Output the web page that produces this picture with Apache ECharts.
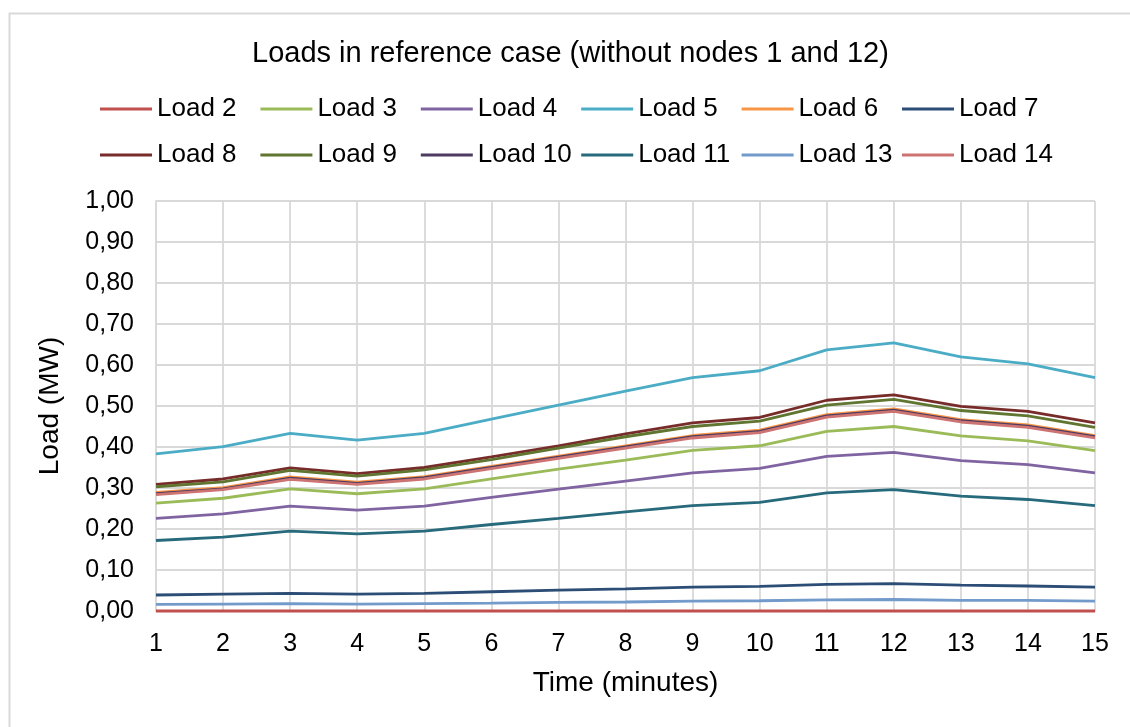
<!DOCTYPE html>
<html>
<head>
<meta charset="utf-8">
<script src="https://cdn.jsdelivr.net/npm/echarts@6/dist/echarts.min.js"></script>
<style>html,body{margin:0;padding:0;background:#fff}#c{width:1130px;height:727px}</style>
</head>
<body>
<div id="c"></div>
<script>
var times = ['1','2','3','4','5','6','7','8','9','10','11','12','13','14','15'];
var yTicks = [0, 0.1, 0.2, 0.3, 0.4, 0.5, 0.6, 0.7, 0.8, 0.9, 1.0];
var seriesNames = ['Load 2','Load 3','Load 4','Load 5','Load 6','Load 7','Load 8','Load 9','Load 10','Load 11','Load 13','Load 14'];
var seriesColors = ['#C0504D','#9BBB59','#8064A2','#4BACC6','#F79646','#2C4D75','#772C2A','#5F7530','#4D3B62','#276A7C','#729ACA','#CD7371'];

var load2  = [0,0,0,0,0,0,0,0,0,0,0,0,0,0,0];
var load3  = [0.263,0.275,0.298,0.286,0.298,0.322,0.346,0.368,0.392,0.403,0.438,0.450,0.427,0.415,0.391];
var load4  = [0.226,0.237,0.256,0.246,0.256,0.277,0.297,0.317,0.337,0.348,0.377,0.387,0.367,0.357,0.337];
var load5  = [0.383,0.401,0.433,0.417,0.433,0.468,0.502,0.536,0.569,0.586,0.637,0.654,0.620,0.603,0.569];
var load6  = [0.289,0.301,0.327,0.314,0.328,0.353,0.378,0.403,0.428,0.441,0.479,0.493,0.467,0.454,0.428];
var load7  = [0.039,0.041,0.043,0.041,0.043,0.047,0.051,0.054,0.058,0.060,0.065,0.067,0.063,0.061,0.058];
var load8  = [0.309,0.322,0.349,0.335,0.350,0.376,0.403,0.432,0.459,0.472,0.514,0.527,0.499,0.487,0.459];
var load9  = [0.303,0.315,0.343,0.329,0.344,0.369,0.397,0.425,0.450,0.463,0.502,0.516,0.489,0.476,0.448];
var load10 = [0.286,0.298,0.324,0.311,0.325,0.350,0.375,0.400,0.425,0.438,0.476,0.490,0.464,0.451,0.425];
var load11 = [0.172,0.180,0.195,0.188,0.195,0.211,0.226,0.242,0.257,0.265,0.288,0.296,0.280,0.272,0.257];
var load13 = [0.016,0.017,0.018,0.017,0.018,0.019,0.021,0.022,0.024,0.025,0.027,0.028,0.026,0.026,0.024];
var load14 = [0.284,0.296,0.321,0.309,0.322,0.347,0.372,0.397,0.422,0.435,0.473,0.487,0.461,0.448,0.422];

var seriesData = [load2,load3,load4,load5,load6,load7,load8,load9,load10,load11,load13,load14];

var FONT = "'Liberation Sans', Arial, sans-serif";

var legends = seriesNames.map(function (name, i) {
  var row = Math.floor(i / 6), col = i % 6;
  return {
    data: [name],
    left: 100 + col * 160.4,
    top: row === 0 ? 94 : 140,
    padding: 0,
    icon: 'rect',
    itemWidth: 52,
    itemHeight: 3,
    selectedMode: false,
    textStyle: { fontFamily: FONT, fontSize: 26, color: '#000', lineHeight: 30, padding: [0,0,0,0] }
  };
});

var series = seriesNames.map(function (name, i) {
  return {
    name: name,
    type: 'line',
    data: seriesData[i],
    color: seriesColors[i],
    showSymbol: false,
    symbol: 'none',
    clip: false,
    lineStyle: { width: 2.8, color: seriesColors[i] },
    emphasis: { disabled: true },
    animation: false
  };
});

var chart = echarts.init(document.getElementById('c'), null, { renderer: 'canvas' });
chart.setOption({
  backgroundColor: '#fff',
  animation: false,
  graphic: [{
    type: 'rect', left: 7, top: 11, silent: true,
    shape: { width: 1200, height: 800 },
    style: { fill: 'none', stroke: '#D9D9D9', lineWidth: 2 }
  }],
  title: {
    text: 'Loads in reference case (without nodes 1 and 12)',
    left: 247, top: 34,
    textStyle: { fontFamily: FONT, fontSize: 29, fontWeight: 'normal', color: '#000' }
  },
  legend: legends,
  grid: { left: 156, right: 35, top: 201, bottom: 116, containLabel: false },
  xAxis: {
    type: 'category',
    data: times,
    boundaryGap: false,
    name: 'Time (minutes)',
    nameLocation: 'middle',
    nameGap: 58,
    nameTextStyle: { fontFamily: FONT, fontSize: 28, color: '#000' },
    axisLine: { show: true, lineStyle: { color: '#D9D9D9', width: 1.8 } },
    axisTick: { show: false },
    axisLabel: { fontFamily: FONT, fontSize: 25, color: '#000', margin: 21 },
    splitLine: { show: true, lineStyle: { color: '#D9D9D9', width: 1.8 } }
  },
  yAxis: {
    type: 'value',
    min: 0, max: 1, interval: 0.1,
    name: 'Load (MW)',
    nameLocation: 'middle',
    nameGap: 92,
    nameTextStyle: { fontFamily: FONT, fontSize: 28, color: '#000' },
    axisLine: { show: true, lineStyle: { color: '#D9D9D9', width: 1.8 } },
    axisTick: { show: false },
    axisLabel: {
      fontFamily: FONT, fontSize: 25, color: '#000', margin: 22,
      formatter: function (v) {
        var t = yTicks.reduce(function (a, b) { return Math.abs(b - v) < Math.abs(a - v) ? b : a; });
        return t.toFixed(2).replace('.', ',');
      }
    },
    splitLine: { show: true, lineStyle: { color: '#D9D9D9', width: 1.8 } }
  },
  series: series
});
</script>
</body>
</html>
